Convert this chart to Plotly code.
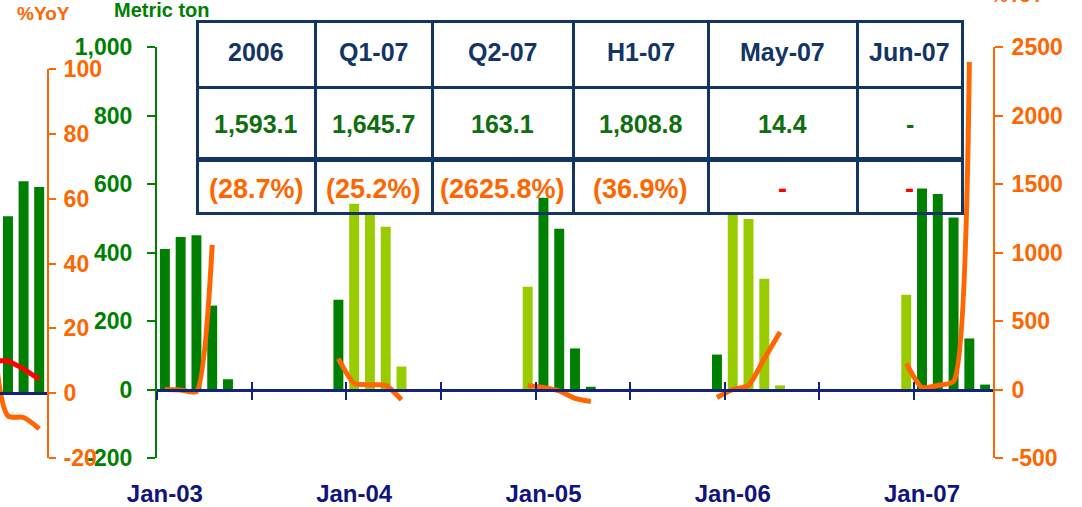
import plotly.graph_objects as go
import pandas as pd

# ---------------- data ----------------
months = pd.date_range("2003-01-01", "2007-05-01", freq="MS").strftime("%b-%y").tolist()  # 53 months

# monthly volume, metric ton (dark green bars)
vol_dark = [410, 445, 450, 245, 30, None, None, None, None, None, None, 262,
            None, None, None, None, None, None, None, None, None, None, None, None,
            560, 469, 120, 8, None, None, None, None, None, None, None, 102,
            None, None, None, None, None, None, None, None, None, None, None, None,
            587, 571, 502, 149, 14.4]
# monthly volume, metric ton (light green bars)
vol_light = [None, None, None, None, None, None, None, None, None, None, None, None,
             542, 512, 475, 67, None, None, None, None, None, None, None, 300,
             None, None, None, None, None, None, None, None, None, None, None, None,
             512, 498, 323, 12, None, None, None, None, None, None, None, 277,
             None, None, None, None, None]
# %YoY (orange line, right axis)
yoy = [0, -3, -15, 1055, None, None, None, None, None, None, None, 225,
       45, 35, 30, -75, None, None, None, None, None, None, None, 30,
       15, -10, -65, -88, None, None, None, None, None, None, None, -58,
       0, 30, 225, 420, None, None, None, None, None, None, None, 190,
       15, 30, 60, 2390, None]

year_ticks = [0, 12, 24, 36, 48]
year_labels = ["Jan-03", "Jan-04", "Jan-05", "Jan-06", "Jan-07"]
half_year_bounds = [-0.5, 5.5, 11.5, 17.5, 23.5, 29.5, 35.5, 41.5, 47.5]

ton_tickvals = [-200, 0, 200, 400, 600, 800, 1000]
ton_ticktext = ["-200", "0", "200", "400", "600", "800", "1,000"]
yoy_tickvals = [-500, 0, 500, 1000, 1500, 2000, 2500]
yoy_ticktext = ["-500", "0", "500", "1000", "1500", "2000", "2500"]

# partial neighbouring chart at the left edge
left_x = [-1, 0, 1, 2]
left_bars = [None, 54.6, 65.4, 63.6]
left_red = [10, 10, 7.5, 4.3]
left_orange = [22, -7, -7.5, -11]
left_tickvals = [-20, 0, 20, 40, 60, 80, 100]
left_ticktext = ["-20", "0", "20", "40", "60", "80", "100"]

# summary table
tbl_headers = ["2006", "Q1-07", "Q2-07", "H1-07", "May-07", "Jun-07"]
tbl_volume = ["1,593.1", "1,645.7", "163.1", "1,808.8", "14.4", "-"]
tbl_yoy = ["(28.7%)", "(25.2%)", "(2625.8%)", "(36.9%)", "-", "-"]

# ---------------- style ----------------
W, H = 1082, 507
DARK = "#008000"
LIGHT = "#99cc00"
ORANGE = "#ff6600"
RED = "#ff0000"
NAVY = "#14237a"
TNAVY = "#123566"
TGREEN = "#0f6e0f"
FONT = "Liberation Sans, Arial, sans-serif"


def px_x(p):
    return p / W


def px_y(p):
    return 1 - p / H


# main plot area
MX0, MX1, MY0, MY1 = 157, 993, 47, 458
main_xdom = [px_x(MX0), px_x(MX1)]
main_ydom = [px_y(MY1), px_y(MY0)]
zero_pos = main_ydom[0] + (0 - (-200)) / 1200 * (main_ydom[1] - main_ydom[0])

# left partial plot
left_xdom = [0, px_x(47)]
left_ydom = [px_y(458), px_y(69)]
left_zero = left_ydom[0] + (0 - (-20)) / 120 * (left_ydom[1] - left_ydom[0])

# table geometry
TBL_X0 = 197
colw = [118, 117, 141, 135, 149, 105]
row_edges = [23, 89, 160, 213]
row_text_y = [52, 124, 189]

xs = list(range(len(months)))

fig = go.Figure()
fig.add_trace(go.Bar(x=xs, y=vol_dark, marker=dict(color=DARK, line=dict(width=0)),
                     width=0.63, xaxis="x", yaxis="y", showlegend=False, customdata=months))
fig.add_trace(go.Bar(x=xs, y=vol_light, marker=dict(color=LIGHT, line=dict(width=0)),
                     width=0.63, xaxis="x3", yaxis="y", showlegend=False, customdata=months))
fig.add_trace(go.Scatter(x=xs, y=yoy, mode="lines", xaxis="x4", yaxis="y2",
                         line=dict(color=ORANGE, width=5, shape="spline", smoothing=0.6),
                         connectgaps=False, showlegend=False))

# left partial chart
fig.add_trace(go.Bar(x=left_x, y=left_bars, marker=dict(color=DARK, line=dict(width=0)),
                     width=0.64, xaxis="x2", yaxis="y3", showlegend=False))
fig.add_trace(go.Scatter(x=left_x, y=left_red, mode="lines", xaxis="x2", yaxis="y3",
                         line=dict(color=RED, width=5), showlegend=False))
fig.add_trace(go.Scatter(x=left_x, y=left_orange, mode="lines", xaxis="x2", yaxis="y3",
                         line=dict(color=ORANGE, width=5, shape="spline", smoothing=0.8),
                         showlegend=False))

# table grid (two parts because of the different row heights); text added as annotations
tbl_xdom = [px_x(TBL_X0), px_x(TBL_X0 + sum(colw))]
blank = [""] * len(tbl_headers)
fig.add_trace(go.Table(
    domain=dict(x=tbl_xdom, y=[px_y(row_edges[2]), px_y(row_edges[0] - 2)]),
    columnwidth=colw,
    header=dict(values=blank, height=row_edges[1] - row_edges[0],
                fill=dict(color="white"), line=dict(color=TNAVY, width=3)),
    cells=dict(values=[[b] for b in blank], height=row_edges[2] - row_edges[1],
               fill=dict(color="white"), line=dict(color=TNAVY, width=3)),
))
fig.add_trace(go.Table(
    domain=dict(x=tbl_xdom, y=[px_y(row_edges[3] + 4), px_y(row_edges[2])]),
    columnwidth=colw,
    header=dict(values=blank, height=row_edges[3] - row_edges[2],
                fill=dict(color="rgba(0,0,0,0)"), line=dict(color=TNAVY, width=3)),
))

annotations = []
cx = TBL_X0
for i, w in enumerate(colw):
    center = cx + w / 2
    cx += w
    common = dict(x=px_x(center), xref="paper", yref="paper", showarrow=False,
                  xanchor="center", yanchor="middle")
    annotations.append(dict(common, text=tbl_headers[i], y=px_y(row_text_y[0]),
                            font=dict(family=FONT, size=25, color=TNAVY, weight="bold")))
    annotations.append(dict(common, text=tbl_volume[i], y=px_y(row_text_y[1]),
                            font=dict(family=FONT, size=25, color=TGREEN, weight="bold")))
    annotations.append(dict(common, text=tbl_yoy[i], y=px_y(row_text_y[2]),
                            font=dict(family=FONT, size=27, weight="bold",
                                      color=ORANGE if tbl_yoy[i] != "-" else RED)))

title_common = dict(xref="paper", yref="paper", showarrow=False, xanchor="center", yanchor="middle")
annotations += [
    dict(title_common, text="%YoY", x=px_x(43), y=px_y(13),
         font=dict(family=FONT, size=19, color=ORANGE, weight="bold")),
    dict(title_common, text="Metric ton", x=px_x(162), y=px_y(10),
         font=dict(family=FONT, size=20, color=DARK, weight="bold")),
    dict(title_common, text="%YoY", x=px_x(1017), y=px_y(-4),
         font=dict(family=FONT, size=19, color=ORANGE, weight="bold")),
]

tick_font = dict(family=FONT, size=23, weight="bold")
xcommon = dict(domain=main_xdom, range=[-0.5, 52.5], anchor="free", showgrid=False,
               zeroline=False, automargin=False)

fig.update_layout(
    width=W, height=H, margin=dict(l=0, r=0, t=0, b=0, autoexpand=False),
    paper_bgcolor="white", plot_bgcolor="rgba(0,0,0,0)",
    barmode="overlay", showlegend=False,
    font=dict(family=FONT),
    xaxis=dict(xcommon, position=zero_pos, showline=True, linecolor=NAVY, linewidth=3,
               tickmode="array", tickvals=half_year_bounds, ticks="outside", ticklen=8,
               tickwidth=2, tickcolor=NAVY, showticklabels=False),
    xaxis3=dict(xcommon, overlaying="x", position=zero_pos, showline=False,
                tickmode="array", tickvals=half_year_bounds, ticks="inside", ticklen=8,
                tickwidth=2, tickcolor=NAVY, showticklabels=False),
    xaxis4=dict(xcommon, overlaying="x", position=px_y(477), showline=False,
                tickmode="array", tickvals=year_ticks, ticktext=year_labels, ticks="",
                tickfont=dict(family=FONT, size=24, color="#10147c", weight="bold")),
    yaxis=dict(domain=main_ydom, range=[-200, 1000], anchor="x", showgrid=False,
               zeroline=False, showline=True, linecolor=DARK, linewidth=2, automargin=False,
               tickmode="array", tickvals=ton_tickvals, ticktext=ton_ticktext,
               ticks="outside", ticklen=8, tickwidth=2, tickcolor=DARK,
               ticklabelstandoff=10, tickfont=dict(tick_font, color=DARK)),
    yaxis2=dict(domain=main_ydom, range=[-500, 2500], overlaying="y", side="right",
                anchor="x", showgrid=False, zeroline=False, showline=True, automargin=False,
                linecolor=ORANGE, linewidth=2, tickmode="array", tickvals=yoy_tickvals,
                ticktext=yoy_ticktext, ticks="outside", ticklen=8, tickwidth=2,
                tickcolor=ORANGE, ticklabelstandoff=4, tickfont=dict(tick_font, color=ORANGE)),
    xaxis2=dict(domain=left_xdom, range=[-0.51, 2.5], anchor="free", position=left_zero,
                showgrid=False, zeroline=False, showline=True, linecolor=NAVY, linewidth=3,
                ticks="", showticklabels=False, automargin=False),
    yaxis3=dict(domain=left_ydom, range=[-20, 100], anchor="x2", side="right",
                showgrid=False, zeroline=False, showline=True, linecolor=ORANGE, linewidth=2,
                automargin=False, tickmode="array", tickvals=left_tickvals,
                ticktext=left_ticktext, ticks="outside", ticklen=7, tickwidth=2,
                tickcolor=ORANGE, ticklabelstandoff=3, tickfont=dict(tick_font, color=ORANGE)),
    annotations=annotations,
)

fig.write_html("out.html", config={"displayModeBar": False},
               post_script="document.body.style.margin='0';document.documentElement.style.overflow='hidden';")
